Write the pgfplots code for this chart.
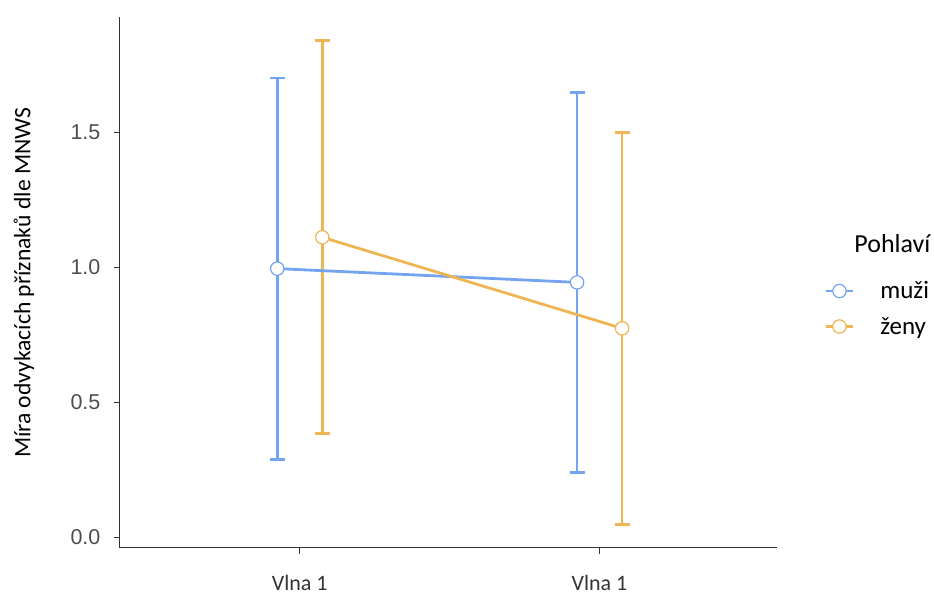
\documentclass[border=0pt]{standalone}
\usepackage{pgfplots}
\pgfplotsset{compat=1.18}
\usepackage{fontspec}
\setmainfont{Liberation Sans}
\newfontfamily\calibri{Carlito}
\definecolor{cblue}{HTML}{74A3F0}
\definecolor{corange}{HTML}{EDB553}
\definecolor{axgray}{HTML}{333333}
\definecolor{txgray}{HTML}{4D4D4D}
\begin{document}
\begin{tikzpicture}
\begin{axis}[
  name=ax,
  scale only axis,
  width=658pt, height=531pt,
  xmin=0.4, xmax=2.593,
  ymin=-0.037, ymax=1.926,
  axis lines*=left,
  axis line style={-, color=axgray, line width=1.2pt},
  tick align=outside,
  major tick length=6pt,
  tick style={color=axgray, line width=1.2pt},
  xtick={1,2},
  xticklabels={Vlna 1, Vlna 1},
  xticklabel style={font=\calibri\fontsize{22}{26}\selectfont, text=axgray, inner sep=0pt, yshift=-22pt},
  ytick={0,0.5,1,1.5},
  yticklabel style={font=\fontsize{21.5}{25}\selectfont, text=txgray, xshift=-10pt},
  /pgf/number format/assume math mode=true,
  /pgf/number format/.cd, fixed, fixed zerofill, precision=1,
  /pgfplots/.cd,
  ylabel={Míra odvykacích příznaků dle MNWS},
  ylabel style={font=\calibri\fontsize{23.6}{27}\selectfont, at={(axis description cs:-0.146,0.499)}, anchor=center},
  clip=false,
  legend style={draw=none, fill=none, at={(axis description cs:1.067,0.509)}, anchor=north west,
    font=\calibri\fontsize{25}{29}\selectfont, row sep=13pt, legend cell align=left,
    nodes={inner sep=2pt},
    /tikz/every odd column/.append style={column sep=24pt}},
  legend image code/.code={
    \draw[line width=2.8pt] (0pt,0pt) -- (27pt,0pt);
    \draw[line width=1.2pt, fill=white] (13.5pt,0pt) circle (6.7pt);
  },
]
% error bars
\addplot[forget plot, draw=none, mark=none,
  error bars/.cd, y dir=both, y explicit,
  error bar style={line width=2.8pt, color=cblue},
  error mark options={rotate=90, line width=2.8pt, color=cblue, mark size=7.5pt}]
  coordinates {(0.925,0.995) +- (0,0.705) (1.925,0.944) +- (0,0.704)};
\addplot[forget plot, draw=none, mark=none,
  error bars/.cd, y dir=both, y explicit,
  error bar style={line width=2.8pt, color=corange},
  error mark options={rotate=90, line width=2.8pt, color=corange, mark size=7.5pt}]
  coordinates {(1.075,1.111) +- (0,0.727) (2.075,0.774) +- (0,0.726)};
% lines + points
\addplot[color=cblue, line width=2.8pt, mark=*, mark size=6.7pt,
  mark options={fill=white, line width=1.2pt}]
  coordinates {(0.925,0.995) (1.925,0.944)};
\addlegendentry{muži}
\addplot[color=corange, line width=2.8pt, mark=*, mark size=6.7pt,
  mark options={fill=white, line width=1.2pt}]
  coordinates {(1.075,1.111) (2.075,0.774)};
\addlegendentry{ženy}
\node[anchor=base west, inner sep=0pt, font=\calibri\fontsize{26}{30}\selectfont] at (axis description cs:1.117,0.557) {Pohlaví};
\coordinate (sw) at (rel axis cs:0,0);
\coordinate (ne) at (rel axis cs:1,1);
\end{axis}
\path ([shift={(-120pt,-49pt)}]sw) rectangle ([shift={(156pt,17pt)}]ne);
\end{tikzpicture}
\end{document}
